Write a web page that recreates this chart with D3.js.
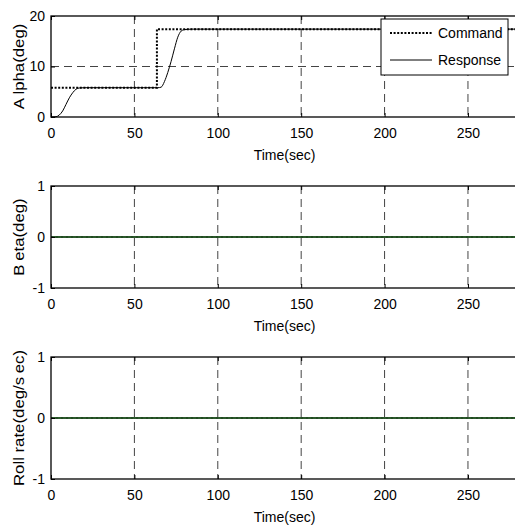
<!DOCTYPE html>
<html>
<head>
<meta charset="utf-8">
<script src="https://cdn.jsdelivr.net/npm/d3@7"></script>
<style>
  body { margin: 0; background: #fff; }
  text { font-family: "Liberation Sans", Arial, sans-serif; }
</style>
</head>
<body>
<div id="my_dataviz"></div>
<script>
// data
var timeTicks = [0, 50, 100, 150, 200, 250];

var alphaCommandT = [0, 63.5, 63.5, 280];
var alphaCommand  = [5.8, 5.8, 17.4, 17.4];
var alphaResponseT = [0, 3, 5, 7, 9, 11, 13, 15, 17, 20, 64, 66, 68, 70, 72, 74, 76, 78, 80, 85, 280];
var alphaResponse  = [0, 0.05, 0.4, 1.2, 2.5, 3.8, 4.8, 5.5, 5.75, 5.8, 5.8, 5.9, 7, 8.8, 11, 13.5, 15.8, 17, 17.3, 17.4, 17.4];

var betaT = [0, 280];
var betaCommand = [0, 0];
var betaResponse = [0, 0];

var rollT = [0, 280];
var rollCommand = [0, 0];
var rollResponse = [0, 0];

var panels = [
  {top: 16,  bottom: 117, domain: [0, 20],  ticks: [0, 10, 20], label: ["A", "lpha(deg)"],
   cmdT: alphaCommandT, cmd: alphaCommand, resT: alphaResponseT, res: alphaResponse, resColor: "#000", legend: true},
  {top: 186, bottom: 288, domain: [-1, 1], ticks: [-1, 0, 1], label: ["B", "eta(deg)"],
   cmdT: betaT, cmd: betaCommand, resT: betaT, res: betaResponse, resColor: "#2b5a2b"},
  {top: 357, bottom: 479, domain: [-1, 1], ticks: [-1, 0, 1], label: ["Roll rate(deg/s", "ec)"],
   cmdT: rollT, cmd: rollCommand, resT: rollT, res: rollResponse, resColor: "#2b5a2b"}
];

var W = 515, H = 527;
var left = 51, right = 518;
var fontSize = "14px";

var svg = d3.select("#my_dataviz")
  .append("svg")
    .attr("width", W)
    .attr("height", H);

var x = d3.scaleLinear().domain([0, 280]).range([left, right]);

panels.forEach(function(p) {
  var y = d3.scaleLinear().domain(p.domain).range([p.bottom, p.top]);
  var g = svg.append("g");

  // dashed grid
  g.selectAll(".vgrid")
    .data(timeTicks.filter(function(d) { return d > 0; }))
    .enter().append("line")
      .attr("x1", function(d) { return x(d); })
      .attr("x2", function(d) { return x(d); })
      .attr("y1", p.top)
      .attr("y2", p.bottom)
      .attr("stroke", "#444")
      .attr("stroke-width", 1)
      .attr("stroke-dasharray", "8,5");
  g.selectAll(".hgrid")
    .data(p.ticks.slice(1, -1))
    .enter().append("line")
      .attr("x1", left)
      .attr("x2", right)
      .attr("y1", function(d) { return y(d); })
      .attr("y2", function(d) { return y(d); })
      .attr("stroke", "#444")
      .attr("stroke-width", 1)
      .attr("stroke-dasharray", "8,5");

  // lines
  var cmdData = p.cmdT.map(function(t, i) { return [t, p.cmd[i]]; });
  var resData = p.resT.map(function(t, i) { return [t, p.res[i]]; });

  if (p.legend) {
    g.append("path")
      .datum(resData)
      .attr("fill", "none")
      .attr("stroke", p.resColor)
      .attr("stroke-width", 1)
      .attr("d", d3.line().curve(d3.curveMonotoneX)
        .x(function(d) { return x(d[0]); })
        .y(function(d) { return y(d[1]); }));
    g.append("path")
      .datum(cmdData)
      .attr("fill", "none")
      .attr("stroke", "#000")
      .attr("stroke-width", 2)
      .attr("stroke-dasharray", "2,1.6")
      .attr("d", d3.line()
        .x(function(d) { return x(d[0]); })
        .y(function(d) { return y(d[1]); }));
  } else {
    g.append("path")
      .datum(resData)
      .attr("fill", "none")
      .attr("stroke", p.resColor)
      .attr("stroke-width", 2)
      .attr("d", d3.line()
        .x(function(d) { return x(d[0]); })
        .y(function(d) { return y(d[1]); }));
    g.append("path")
      .datum(cmdData)
      .attr("fill", "none")
      .attr("stroke", "#1a3a1a")
      .attr("stroke-width", 1)
      .attr("stroke-dasharray", "2,3")
      .attr("d", d3.line()
        .x(function(d) { return x(d[0]); })
        .y(function(d) { return y(d[1]); }));
  }

  // axes with inward ticks
  var xb = g.append("g")
    .attr("transform", "translate(0," + p.bottom + ")")
    .call(d3.axisBottom(x).tickValues(timeTicks).tickSizeInner(-4).tickSizeOuter(0).tickPadding(11));
  var xt = g.append("g")
    .attr("transform", "translate(0," + p.top + ")")
    .call(d3.axisTop(x).tickValues(timeTicks).tickSizeInner(-4).tickSizeOuter(0).tickFormat(""));
  var yl = g.append("g")
    .attr("transform", "translate(" + left + ",0)")
    .call(d3.axisLeft(y).tickValues(p.ticks).tickFormat(function(d) { return String(d); })
      .tickSizeInner(-4).tickSizeOuter(0).tickPadding(6));
  [xb, xt, yl].forEach(function(a) {
    a.select(".domain").remove();
    a.selectAll("line").attr("stroke", "#000");
    a.selectAll("text")
      .attr("fill", "#000")
      .style("font-size", fontSize)
      .style("font-family", "'Liberation Sans', Arial, sans-serif");
  });

  // frame
  g.append("rect")
    .attr("x", left)
    .attr("y", p.top)
    .attr("width", right - left)
    .attr("height", p.bottom - p.top)
    .attr("fill", "none")
    .attr("stroke", "#000")
    .attr("stroke-width", 1.3);

  // x label
  g.append("text")
    .attr("x", (left + right) / 2)
    .attr("y", p.bottom + 43)
    .attr("text-anchor", "middle")
    .style("font-size", fontSize)
    .text("Time(sec)");

  // y label
  var cy = (p.top + p.bottom) / 2;
  var yt = g.append("text")
    .attr("transform", "translate(19," + cy + ") rotate(-90) scale(1.2,1)")
    .attr("text-anchor", "middle")
    .attr("dy", "0.35em")
    .style("font-size", fontSize);
  yt.append("tspan").text(p.label[0]);
  yt.append("tspan").attr("dx", 3).text(p.label[1]);

  // legend
  if (p.legend) {
    var lg = svg.append("g");
    lg.append("rect")
      .attr("x", 381).attr("y", 19)
      .attr("width", 127).attr("height", 56)
      .attr("fill", "#fff")
      .attr("stroke", "#000")
      .attr("stroke-width", 1);
    lg.append("line")
      .attr("x1", 390).attr("x2", 432).attr("y1", 33).attr("y2", 33)
      .attr("stroke", "#000").attr("stroke-width", 2).attr("stroke-dasharray", "2,1.6");
    lg.append("line")
      .attr("x1", 390).attr("x2", 432).attr("y1", 60).attr("y2", 60)
      .attr("stroke", "#000").attr("stroke-width", 1);
    lg.append("text").attr("x", 438).attr("y", 38).style("font-size", fontSize).text("Command");
    lg.append("text").attr("x", 438).attr("y", 65).style("font-size", fontSize).text("Response");
  }
});
</script>
</body>
</html>
